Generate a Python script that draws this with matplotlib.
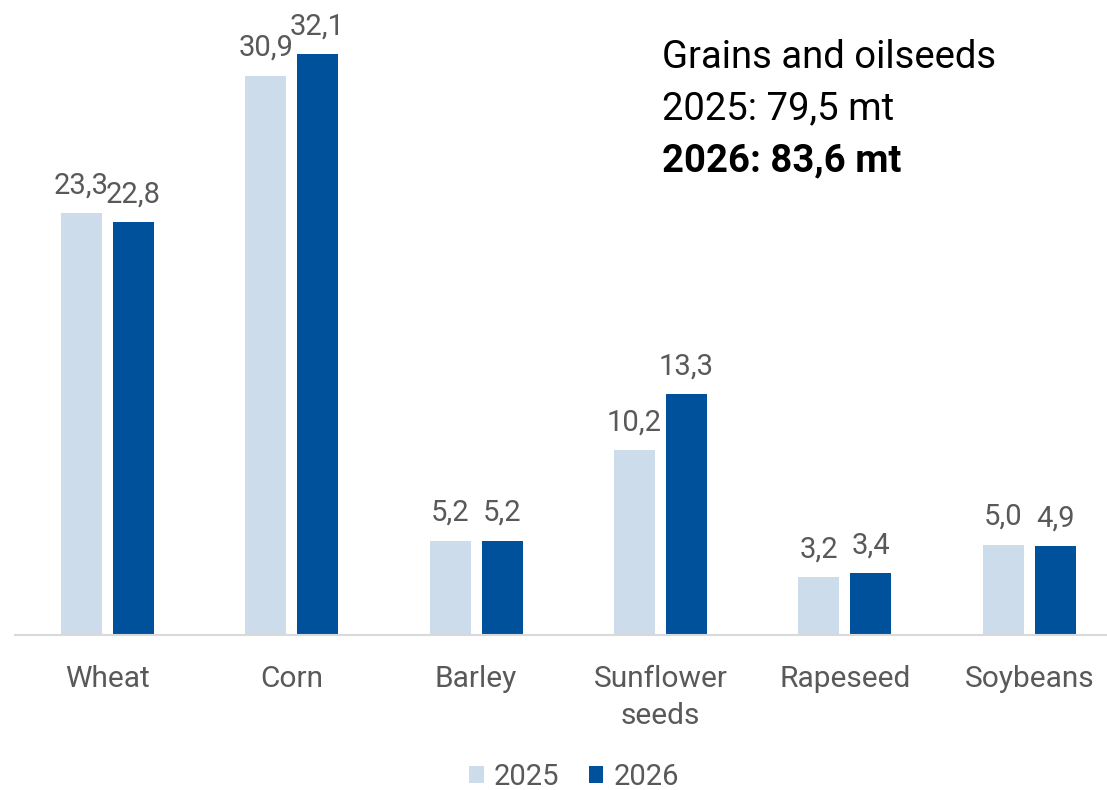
import matplotlib
matplotlib.use("Agg")
import matplotlib.pyplot as plt
import numpy as np

categories = ["Wheat", "Corn", "Barley", "Sunflower\nseeds", "Rapeseed", "Soybeans"]
values_2025 = [23.3, 30.9, 5.2, 10.2, 3.2, 5.0]
values_2026 = [22.8, 32.1, 5.2, 13.3, 3.4, 4.9]
series_names = ["2025", "2026"]
title_lines = ["Grains and oilseeds", "2025: 79,5 mt", "2026: 83,6 mt"]

plt.rcParams['font.family'] = ['Roboto', 'DejaVu Sans']

W, H = 1107, 790
fig = plt.figure(figsize=(W / 100, H / 100), dpi=100)

def px(x0, y0, x1, y1):
    return [x0 / W, 1 - y1 / H, (x1 - x0) / W, (y1 - y0) / H]

ax = fig.add_axes(px(15, 0, 1107, 635))
spacing = 184.4
ax.set_xlim(-0.5, -0.5 + 1092 / spacing)
ax.set_ylim(0, 635 / 18.1)

light = "#CCDCEB"
dark = "#00519C"
x = np.arange(len(categories))
bw = 41 / spacing
off = 26 / spacing
b1 = ax.bar(x - off, values_2025, bw, color=light, label=series_names[0])
b2 = ax.bar(x + off, values_2026, bw, color=dark, label=series_names[1])

gray = "#595959"
for bars, vals in ((b1, values_2025), (b2, values_2026)):
    for r, v in zip(bars, vals):
        ax.annotate(f"{v:.1f}".replace(".", ","),
                    (r.get_x() + r.get_width() / 2, r.get_height()),
                    xytext=(0, 10), textcoords="offset points",
                    ha="center", va="bottom", fontsize=21, color=gray)

for s in ["top", "right", "left"]:
    ax.spines[s].set_visible(False)
ax.spines["bottom"].set_color("#D9D9D9")
ax.spines["bottom"].set_linewidth(1.5)
ax.set_yticks([])
ax.set_xticks(x)
ax.set_xticklabels(categories, fontsize=21.5, color=gray, linespacing=1.43)
ax.tick_params(axis="x", length=0, pad=21.5)

fs_t = 27.5
fig.text(662 / W, 1 - 68 / H, title_lines[0], fontsize=fs_t, color="black", ha="left", va="baseline")
fig.text(662 / W, 1 - 119 / H, title_lines[1], fontsize=fs_t, color="black", ha="left", va="baseline")
fig.text(662 / W, 1 - 171 / H, title_lines[2], fontsize=fs_t, color="black", ha="left", va="baseline", fontweight="bold")

leg = fig.legend(handles=[b1, b2], labels=series_names, loc="center",
                 bbox_to_anchor=(574 / W, 1 - 777 / H), ncol=2, frameon=False,
                 fontsize=21, handlelength=0.5, handleheight=0.5, handletextpad=0.35,
                 columnspacing=1.0)
for t in leg.get_texts():
    t.set_color(gray)

fig.savefig("out.png", dpi=100)
